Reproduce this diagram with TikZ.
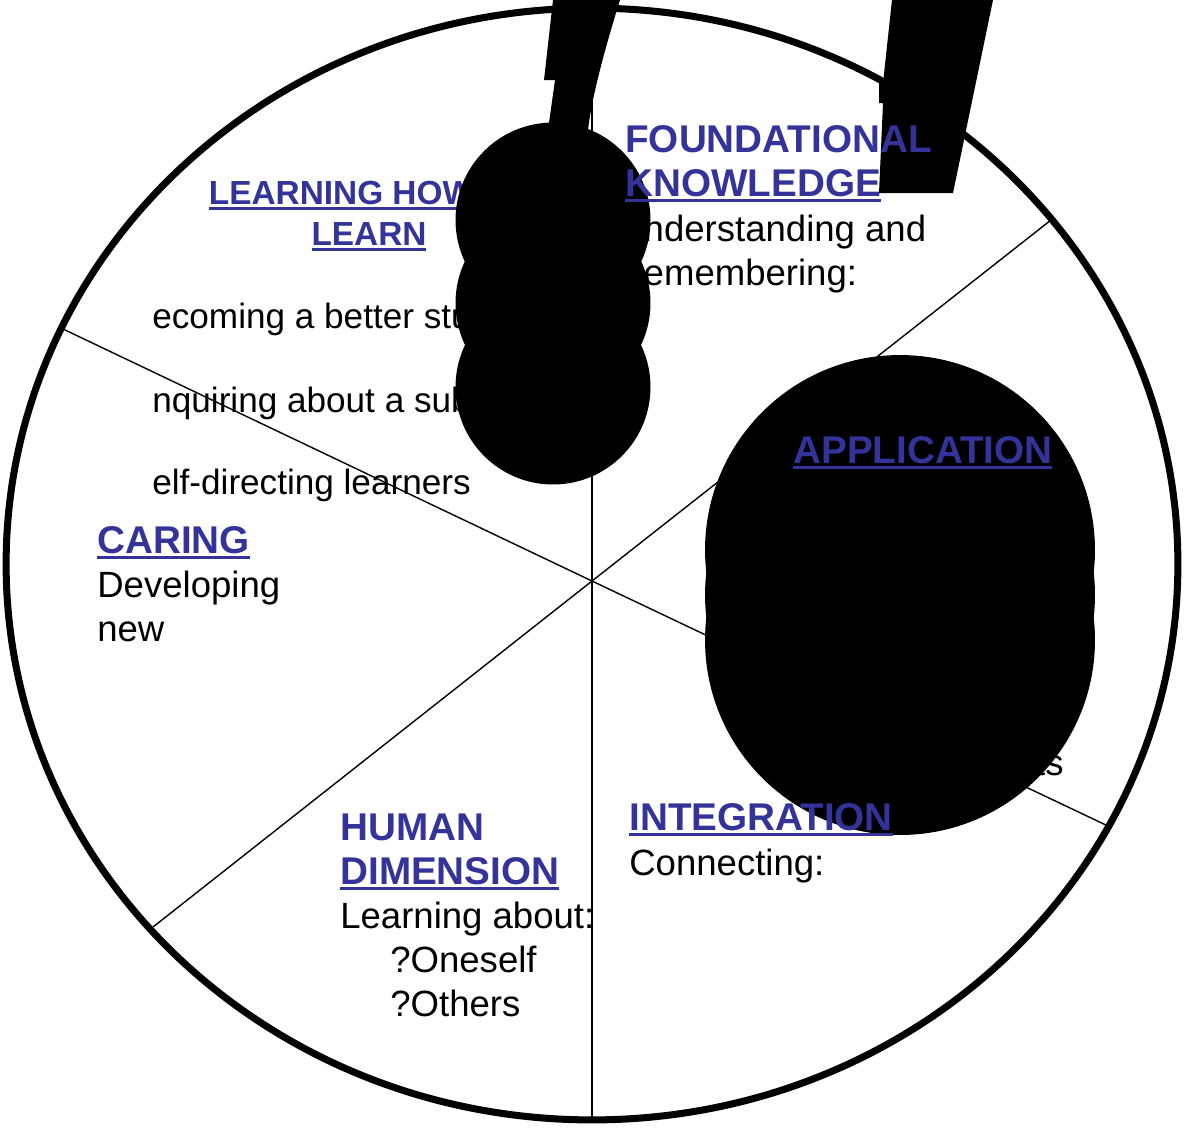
\documentclass[tikz,border=0pt]{standalone}
\usepackage{fontspec}
\setmainfont{Liberation Sans}
\usepackage{tikz}

\definecolor{linkblue}{RGB}{51,51,153}
\newcommand{\ulink}[1]{\setbox0\hbox{#1}\rlap{\rule[-3.4pt]{\wd0}{1.7pt}}\box0}

\tikzset{
  rim/.style={line width=4pt},
  spoke/.style={line width=0.8pt},
  body/.style={anchor=base west, inner sep=0pt, align=left, font=\fontsize{20.8}{25}\selectfont},
  listtext/.style={anchor=base west, inner sep=0pt, font=\fontsize{20}{24}\selectfont},
  heading/.style={anchor=base west, inner sep=0pt, align=left, text=linkblue, font=\bfseries\fontsize{22}{25}\selectfont},
  blob/.style={fill=black}
}

\begin{document}
\begin{tikzpicture}[x=0.02cm, y=-0.02cm]
        \useasboundingbox (0,0) rectangle (1185,1127);
        % wheel and spokes
        \coordinate (hub) at (592,581);
        \draw[rim] (592,564) ellipse [x radius=11.72cm, y radius=11.12cm];
        \draw[spoke] (hub) -- (592,8);
        \draw[spoke] (hub) -- (592,1120);
        \draw[spoke] (hub) -- (63,329);
        \draw[spoke] (hub) -- (1051,220);
        \draw[spoke] (hub) -- (153,927);
        \draw[spoke] (hub) -- (1108,826);
        % texts under the blobs (multi-line nodes sit on their last line)
        \node[body] (fktext) at (617,285) {Understanding and\\Remembering:};
        \node[listtext] (lhl1) at (152,328) {ecoming a better stu};
        \node[listtext] (lhl2) at (152,412) {nquiring about a sub};
        \node[listtext] (lhl3) at (152,494) {elf-directing learners};
        \node[heading, align=center, anchor=base, font=\bfseries\fontsize{19}{23.3}\selectfont] (lhl) at (369,245) {\ulink{LEARNING HOW TO}\\\ulink{LEARN}};
        \node[body] (cartext) at (97,641) {Developing\\new};
        \node[body, anchor=base east] (apptext) at (1064,775) {ts};
        \node[body] (inttext) at (629,875) {Connecting:};
        \node[body] (humtext) at (340,928) {Learning about:};
        \node[body] (humlist) at (390,1016) {?Oneself\\?Others};
        % black blobs
        \fill[blob] (553,0) -- (544,80) -- (555,80) -- (548,130) -- (588,130) .. controls (592,95) and (606,45) .. (620,0) -- cycle;
        \fill[blob] (553,220) circle [radius=1.95cm];
        \fill[blob] (553,303) circle [radius=1.95cm];
        \fill[blob] (553,387) circle [radius=1.95cm];
        \fill[blob] (892,0) -- (883,83) -- (879,83) -- (879,103) -- (883,103) -- (879,193) -- (953,193) -- (993,0) -- cycle;
        \fill[blob] (900,550) circle [radius=3.9cm];
        \fill[blob] (900,595) circle [radius=3.9cm];
        \fill[blob] (900,640) circle [radius=3.9cm];
        % headings on top
        \node[heading] (fk) at (625,196) {FOUNDATIONAL\\\ulink{KNOWLEDGE}};
        \node[heading] (car) at (97,553) {\ulink{CARING}};
        \node[heading] (app) at (793,463) {\ulink{APPLICATION}};
        \node[heading] (int) at (629,830) {\ulink{INTEGRATION}};
        \node[heading] (hum) at (340,884) {HUMAN\\\ulink{DIMENSION}};
\end{tikzpicture}
\end{document}
